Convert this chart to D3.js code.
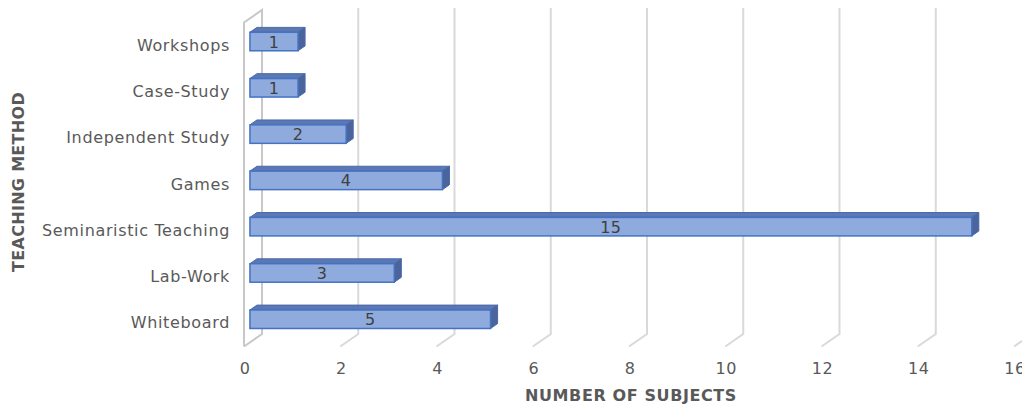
<!DOCTYPE html>
<html>
<head>
<meta charset="utf-8">
<script src="https://cdn.jsdelivr.net/npm/d3@7"></script>
<style>
  body { margin: 0; background: #fff; }
  svg { display: block; font-family: "DejaVu Sans", Verdana, sans-serif; }
</style>
</head>
<body>
<div id="wrapper"></div>
<script>
/* global d3 */

// data
const methods = ["Workshops", "Case-Study", "Independent Study", "Games",
  "Seminaristic Teaching", "Lab-Work", "Whiteboard"]
const subjects = [1, 1, 2, 4, 15, 3, 5]
const xTicks = [0, 2, 4, 6, 8, 10, 12, 14, 16]

function drawBars() {
  const data = methods.map((m, i) => ({ method: m, value: subjects[i] }))
  const xAccessor = d => d.value
  const yAccessor = d => d.method

  const dimensions = {
    width: 1022,
    height: 405,
    // front plane of the 3d box
    frontLeft: 244,
    frontRight: 1014,
    frontTop: 22.5,
    frontBottom: 346.5,
  }
  // depth vector (front -> back)
  const depth = { dx: 18, dy: -12.5 }
  // bars sit between these fractions of the depth
  const barNear = 0.33
  const barFar = 0.72

  const wrapper = d3.select("#wrapper")
    .append("svg")
    .attr("width", dimensions.width)
    .attr("height", dimensions.height)

  // scales (front plane)
  const xScale = d3.scaleLinear()
    .domain([0, 16])
    .range([dimensions.frontLeft, dimensions.frontRight])

  const yScale = d3.scaleBand()
    .domain(methods)
    .range([dimensions.frontTop, dimensions.frontBottom])

  const barHeight = yScale.bandwidth() * 0.4

  // gridlines
  const grid = wrapper.append("g")
  const backTop = dimensions.frontTop + depth.dy
  const backBottom = dimensions.frontBottom + depth.dy

  grid.selectAll("path")
    .data(xTicks.filter(t => t > 0))
    .join("path")
      .attr("d", t => {
        const xf = xScale(t)
        const xb = xf + depth.dx
        return `M${xb},${backTop - 2}L${xb},${backBottom}L${xf},${dimensions.frontBottom}`
      })
      .attr("fill", "none")
      .attr("stroke", "#d9d9d9")
      .attr("stroke-width", 2)

  // left wall
  const x0 = xScale(0)
  grid.append("path")
    .attr("d", `M${x0},${dimensions.frontBottom}L${x0},${dimensions.frontTop}`
      + `L${x0 + depth.dx},${backTop}L${x0 + depth.dx},${backBottom}`
      + `L${x0},${dimensions.frontBottom}`)
    .attr("fill", "none")
    .attr("stroke", "#c8c8c8")
    .attr("stroke-width", 2)

  // tick labels
  wrapper.append("g")
    .selectAll("text")
    .data(xTicks)
    .join("text")
      .attr("x", t => xScale(t) + 1)
      .attr("y", 374)
      .attr("text-anchor", "middle")
      .attr("fill", "#595959")
      .style("font-size", "16px")
      .style("letter-spacing", "0.5px")
      .text(t => t)

  // category labels
  wrapper.append("g")
    .selectAll("text")
    .data(methods)
    .join("text")
      .attr("x", 230)
      .attr("y", m => yScale(m) + yScale.bandwidth() / 2 + 5)
      .attr("text-anchor", "end")
      .attr("fill", "#595959")
      .style("font-size", "16px")
      .style("letter-spacing", "0.65px")
      .text(m => m)

  // bars
  const nx = barNear * depth.dx, ny = barNear * depth.dy
  const fx = barFar * depth.dx, fy = barFar * depth.dy
  const bars = wrapper.append("g")
    .selectAll("g")
    .data(data)
    .join("g")

  const x1 = d => xScale(0) + nx
  const x2 = d => xScale(xAccessor(d)) + nx
  const yTop = d => yScale(yAccessor(d)) + (yScale.bandwidth() - barHeight) / 2 + ny

  // top face
  bars.append("path")
    .attr("d", d => {
      const y = yTop(d)
      return `M${x1(d)},${y}L${x2(d)},${y}L${x2(d) + fx - nx},${y + fy - ny}`
        + `L${x1(d) + fx - nx},${y + fy - ny}Z`
    })
    .attr("fill", "#5b78b4")
    .attr("stroke", "#4a69a8")
    .attr("stroke-width", 1)

  // side face
  bars.append("path")
    .attr("d", d => {
      const y = yTop(d)
      const x = x2(d)
      return `M${x},${y}L${x + fx - nx},${y + fy - ny}`
        + `L${x + fx - nx},${y + fy - ny + barHeight}L${x},${y + barHeight}Z`
    })
    .attr("fill", "#4b649c")
    .attr("stroke", "#4a69a8")
    .attr("stroke-width", 1)

  // front face
  bars.append("rect")
    .attr("x", x1)
    .attr("y", yTop)
    .attr("width", d => x2(d) - x1(d))
    .attr("height", barHeight)
    .attr("fill", "#8faadc")
    .attr("stroke", "#4472c4")
    .attr("stroke-width", 1.5)

  // value labels
  bars.append("text")
    .attr("x", d => (x1(d) + x2(d)) / 2)
    .attr("y", d => yTop(d) + barHeight / 2 + 6)
    .attr("text-anchor", "middle")
    .attr("fill", "#404040")
    .style("font-size", "16px")
    .style("letter-spacing", "0.5px")
    .text(xAccessor)

  // axis titles
  wrapper.append("text")
    .attr("x", 631)
    .attr("y", 401)
    .attr("text-anchor", "middle")
    .attr("fill", "#595959")
    .style("font-size", "16px")
    .style("font-weight", "bold")
    .style("letter-spacing", "0.6px")
    .text("NUMBER OF SUBJECTS")

  wrapper.append("text")
    .attr("transform", "translate(24,182) rotate(-90)")
    .attr("text-anchor", "middle")
    .attr("fill", "#595959")
    .style("font-size", "16px")
    .style("font-weight", "bold")
    .style("letter-spacing", "0.3px")
    .text("TEACHING METHOD")
}
drawBars()
</script>
</body>
</html>
